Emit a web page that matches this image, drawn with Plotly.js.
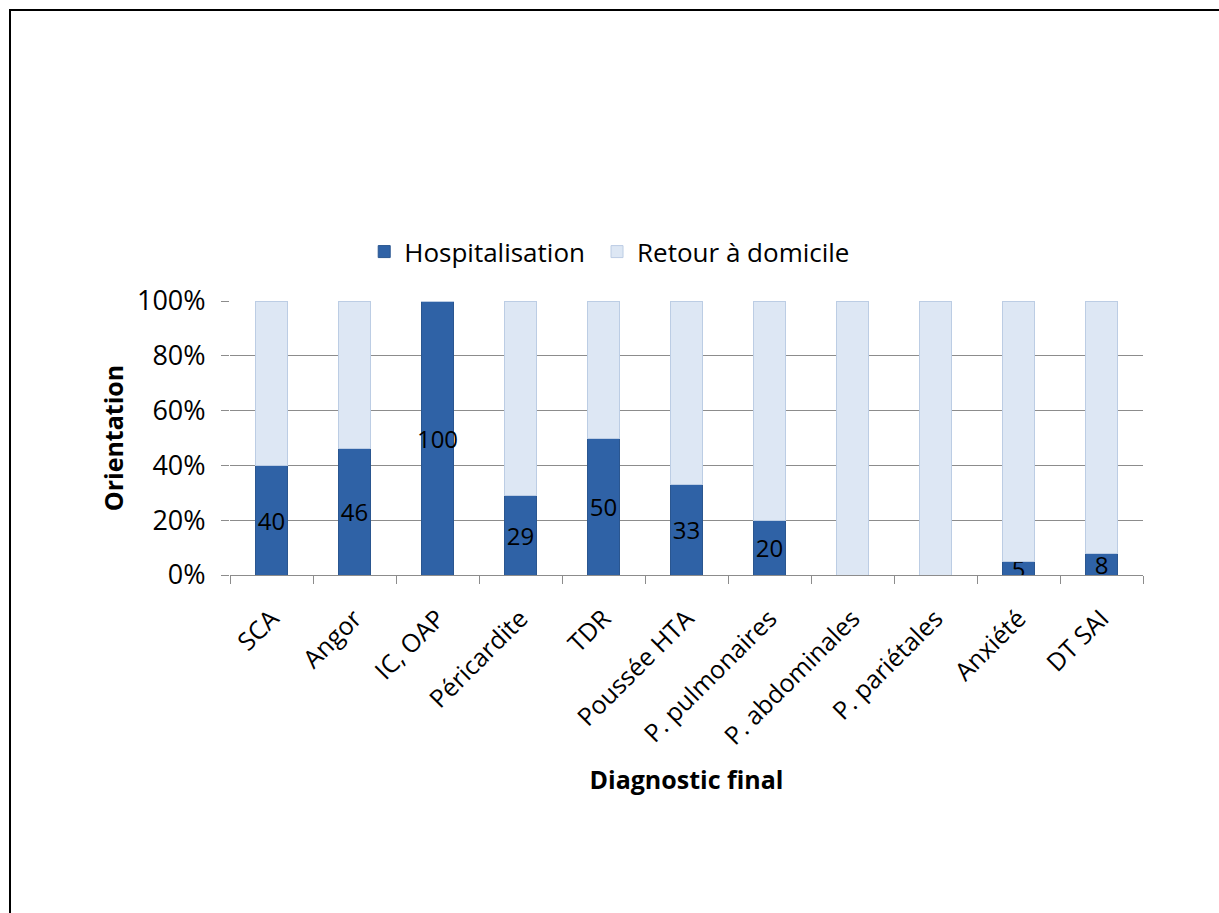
<!DOCTYPE html>
<html>
<head>
<meta charset="utf-8">
<script src="https://cdn.plot.ly/plotly-3.0.1.min.js"></script>
<style>
  html, body { margin: 0; padding: 0; background: #fff; overflow: hidden; }
  #wrap { position: relative; width: 1219px; height: 913px; overflow: hidden; }
  #chart { width: 1219px; height: 913px; }
  #frame { position: absolute; left: 9px; top: 9px; width: 1215px; height: 910px;
           border-top: 2px solid #000; border-left: 2px solid #000; pointer-events: none; }
</style>
</head>
<body>
<div id="wrap">
  <div id="chart"></div>
  <div id="frame"></div>
</div>
<script>
const categories = ["SCA", "Angor", "IC, OAP", "Péricardite", "TDR", "Poussée HTA",
                    "P. pulmonaires", "P. abdominales", "P. pariétales", "Anxiété", "DT SAI"];
const hospitalisation = [40, 46, 100, 29, 50, 33, 20, 0, 0, 5, 8];
const retourDomicile = [60, 54, 0, 71, 50, 67, 80, 100, 100, 95, 92];
const yTickVals = [0, 20, 40, 60, 80, 100];
const yTickText = ["0%", "20%", "40%", "60%", "80%", "100%"];

const FONT = "Open Sans, Noto Sans, sans-serif";

const traces = [
  {
    type: "bar",
    name: "Hospitalisation",
    legend: "legend",
    x: categories,
    y: hospitalisation,
    text: hospitalisation.map(v => v > 0 ? String(v) : ""),
    textposition: "inside",
    insidetextanchor: "middle",
    constraintext: "none",
    textangle: 0,
    textfont: { family: FONT, size: 24, color: "#000" },
    marker: { color: "#2f62a6", line: { color: "#2a5690", width: 1 } },
    hoverinfo: "x+y"
  },
  {
    type: "bar",
    name: "Retour à domicile",
    legend: "legend2",
    x: categories,
    y: retourDomicile,
    marker: { color: "#dde7f4", line: { color: "#bccde4", width: 1 } },
    hoverinfo: "x+y"
  }
];

const legendBase = {
  orientation: "h",
  y: 1.18, yanchor: "middle",
  xanchor: "left",
  font: { family: FONT, size: 26, color: "#000" },
  itemwidth: 30,
  bgcolor: "rgba(0,0,0,0)"
};

const layout = {
  width: 1219,
  height: 913,
  margin: { l: 230, r: 76, t: 301, b: 338 },
  paper_bgcolor: "#fff",
  plot_bgcolor: "#fff",
  barmode: "stack",
  bargap: 0.61,
  font: { family: FONT, color: "#000" },
  showlegend: true,
  legend: Object.assign({}, legendBase, { x: 0.147 }),
  legend2: Object.assign({}, legendBase, { x: 0.402 }),
  xaxis: {
    type: "category",
    tickangle: -45,
    tickfont: { family: FONT, size: 25, color: "#000" },
    showgrid: false,
    showline: true,
    linecolor: "#8c8c8c",
    linewidth: 1,
    ticks: "outside",
    ticklen: 8,
    tickcolor: "#8c8c8c",
    tickson: "boundaries",
    ticklabelstandoff: 18,
    title: { text: "<b>Diagnostic final</b>", font: { family: FONT, size: 25, color: "#000" }, standoff: 20 }
  },
  yaxis: {
    range: [0, 100],
    tickvals: yTickVals,
    ticktext: yTickText,
    tickfont: { family: FONT, size: 27, color: "#000" },
    showgrid: true,
    gridcolor: "#8c8c8c",
    gridwidth: 1,
    zeroline: false,
    showline: false,
    ticks: "outside",
    ticklen: 8,
    tickcolor: "#8c8c8c",
    ticklabelstandoff: 10,
    title: { text: "<b>Orientation</b>", font: { family: FONT, size: 25, color: "#000" }, standoff: 6 }
  }
};

Plotly.newPlot("chart", traces, layout, { displayModeBar: false, staticPlot: true });
</script>
</body>
</html>
